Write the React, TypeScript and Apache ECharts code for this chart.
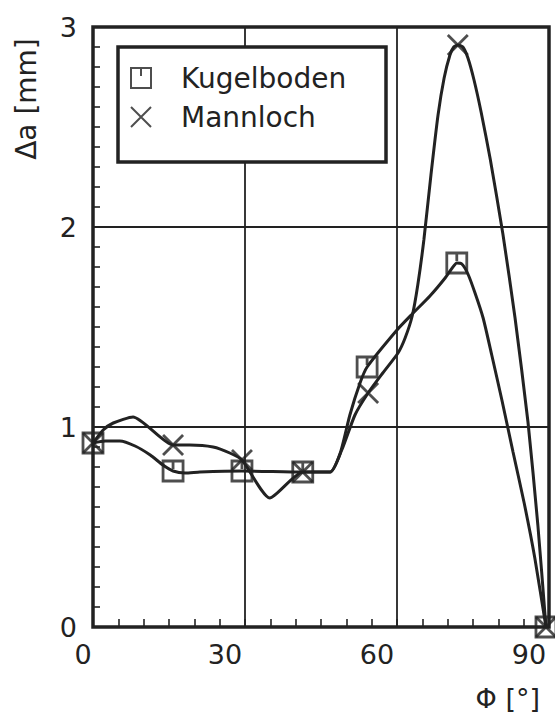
import { useEffect, useRef } from "react";
import * as echarts from "echarts";

const INK = "#222222";
const FONT = "DejaVu Sans";

const seriesNames = ["Kugelboden", "Mannloch"];
const xAxisName = "Φ [°]";
const yAxisName = "Δa [mm]";

// measured points (markers)
const kugelPhi = [0, 15.8, 29.4, 41.4, 54.1, 71.8, 89.4];
const kugelDa = [0.92, 0.78, 0.78, 0.775, 1.3, 1.82, 0];
const mannPhi = [0, 15.8, 29.4, 41.4, 54.3, 72.0, 89.4];
const mannDa = [0.92, 0.91, 0.835, 0.775, 1.17, 2.91, 0];

// vertices of the drawn curves
const kugelCurvePhi = [0, 2.4, 5.3, 8.3, 11.3, 13.8, 15.8, 18.2, 21.1, 29.4, 41.4, 46.8, 48.8, 50.7, 52.7, 54.1, 60.0, 63.0, 66.5, 69.5, 70.9, 71.8, 72.8, 74.0, 75.4, 77.0, 78.7, 80.7, 82.9, 85.1, 87.2, 89.4];
const kugelCurveDa = [0.92, 0.93, 0.93, 0.905, 0.86, 0.81, 0.78, 0.77, 0.775, 0.78, 0.775, 0.775, 0.87, 1.06, 1.22, 1.3, 1.485, 1.565, 1.655, 1.745, 1.795, 1.82, 1.815, 1.765, 1.67, 1.545, 1.36, 1.135, 0.875, 0.62, 0.345, 0];
const mannCurvePhi = [0, 2.0, 4.0, 7.9, 15.8, 19.1, 23.7, 27.0, 29.4, 34.9, 41.4, 46.8, 49.1, 51.7, 54.3, 57.2, 60.2, 61.6, 63.0, 64.1, 65.3, 66.7, 68.1, 69.3, 70.45, 71.2, 72.0, 73.0, 74.0, 75.2, 76.6, 78.4, 80.9, 83.3, 85.85, 87.8, 89.4];
const mannCurveDa = [0.92, 0.985, 1.02, 1.05, 0.91, 0.91, 0.9, 0.87, 0.835, 0.645, 0.775, 0.775, 0.885, 1.06, 1.17, 1.27, 1.37, 1.445, 1.555, 1.71, 1.935, 2.26, 2.56, 2.745, 2.86, 2.9, 2.91, 2.9, 2.845, 2.735, 2.575, 2.34, 1.965, 1.545, 1.025, 0.51, 0];

const SQUARE = "path://M0,0L20,0L20,20L0,20Z M10,0L10,8";
const CROSS = "path://M0,0L20,20M20,0L0,20";

const zip = (a: number[], b: number[]) => a.map((v, i) => [v, b[i]]);

export default function App() {
  const ref = useRef<HTMLDivElement>(null);
  useEffect(() => {
    if (!ref.current) return;
    const chart = echarts.init(ref.current, null, { renderer: "svg" });
    const markerStyle = { color: "rgba(0,0,0,0)", borderColor: INK, borderWidth: 2.8 };
    chart.setOption({
      animation: false,
      backgroundColor: "#fff",
      grid: { left: 93, top: 27, right: 6, bottom: 90, show: true, borderColor: INK, borderWidth: 3.5 },
      xAxis: {
        type: "value",
        min: 0,
        max: 90,
        interval: 30,
        axisLine: { show: false },
        axisTick: { show: true, inside: true, length: 8, lineStyle: { color: INK, width: 1.6 } },
        minorTick: { show: true, splitNumber: 6, length: 8, lineStyle: { color: INK, width: 1.6 } },
        splitLine: { show: true, lineStyle: { color: INK, width: 1.8 } },
        axisLabel: {
          margin: 14,
          color: INK,
          fontSize: 27,
          fontFamily: FONT,
          formatter: (v: number) => (v === 0 ? `{a|${v}}` : `{b|${v}}`),
          rich: {
            a: { fontSize: 27, fontFamily: FONT, color: INK, padding: [0, 20, 0, 0] },
            b: { fontSize: 27, fontFamily: FONT, color: INK, padding: [0, 40, 0, 0] },
          },
        },
      },
      yAxis: {
        type: "value",
        min: 0,
        max: 3,
        interval: 1,
        axisLine: { show: false },
        axisTick: { show: true, inside: true, length: 7, lineStyle: { color: INK, width: 1.6 } },
        minorTick: { show: true, splitNumber: 10, length: 7, lineStyle: { color: INK, width: 1.6 } },
        splitLine: { show: true, lineStyle: { color: INK, width: 1.8 } },
        axisLabel: { margin: 16, color: INK, fontSize: 27, fontFamily: FONT, padding: [0, 0, 6, 0] },
      },
      legend: {
        left: 130,
        top: 64,
        orient: "vertical",
        itemWidth: 20,
        itemHeight: 20,
        itemGap: 11,
        padding: 0,
        selectedMode: false,
        z: 20,
        textStyle: { fontSize: 28, fontFamily: FONT, color: INK, padding: [0, 0, 0, 25] },
        data: [
          { name: seriesNames[0], icon: SQUARE },
          { name: seriesNames[1], icon: CROSS },
        ],
      },
      graphic: [
        {
          type: "rect",
          z: 10,
          shape: { x: 118, y: 47, width: 268, height: 115 },
          style: { fill: "#fff", stroke: INK, lineWidth: 3.5 },
        },
        {
          type: "text",
          x: 26,
          y: 99,
          rotation: Math.PI / 2,
          style: { text: yAxisName, fontSize: 28, fontFamily: FONT, fill: INK, align: "center", verticalAlign: "middle" },
        },
        {
          type: "text",
          x: 540,
          y: 698,
          style: { text: xAxisName, fontSize: 27, fontFamily: FONT, fill: INK, align: "right", verticalAlign: "middle" },
        },
      ],
      series: [
        {
          type: "line",
          name: seriesNames[0] + " Kurve",
          data: zip(kugelCurvePhi, kugelCurveDa),
          smooth: 0.2,
          showSymbol: false,
          symbol: "none",
          silent: true,
          lineStyle: { color: INK, width: 3 },
          z: 3,
        },
        {
          type: "line",
          name: seriesNames[1] + " Kurve",
          data: zip(mannCurvePhi, mannCurveDa),
          smooth: 0.2,
          showSymbol: false,
          symbol: "none",
          silent: true,
          lineStyle: { color: INK, width: 3 },
          z: 3,
        },
        {
          type: "scatter",
          name: seriesNames[0],
          data: zip(kugelPhi, kugelDa),
          symbol: SQUARE,
          symbolSize: 20,
          itemStyle: markerStyle,
          z: 4,
        },
        {
          type: "scatter",
          name: seriesNames[1],
          data: zip(mannPhi, mannDa),
          symbol: CROSS,
          symbolSize: 20,
          itemStyle: markerStyle,
          z: 4,
        },
      ],
    });
    return () => chart.dispose();
  }, []);
  return <div ref={ref} style={{ position: "fixed", left: 0, top: 0, width: 555, height: 717, background: "#fff" }} />;
}
